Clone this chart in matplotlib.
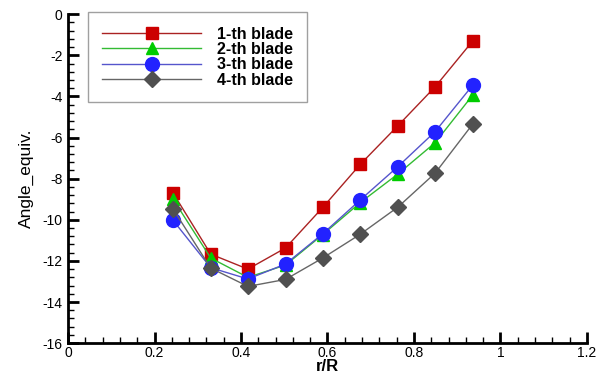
import matplotlib.pyplot as plt
from matplotlib.ticker import MultipleLocator, AutoMinorLocator

plt.rcParams['font.family'] = ['Liberation Sans', 'DejaVu Sans']
plt.rcParams['axes.unicode_minus'] = False

# r/R stations
r_R = [0.243, 0.330, 0.416, 0.503, 0.589, 0.676, 0.763, 0.849, 0.936]

# equivalent angle for each blade
blade1 = [-8.7, -11.67, -12.4, -11.37, -9.4, -7.3, -5.42, -3.53, -1.3]
blade2 = [-9.0, -11.86, -12.8, -12.2, -10.72, -9.16, -7.77, -6.25, -3.93]
blade3 = [-10.03, -12.33, -12.88, -12.15, -10.68, -9.03, -7.41, -5.71, -3.45]
blade4 = [-9.48, -12.35, -13.24, -12.9, -11.86, -10.7, -9.38, -7.73, -5.34]

labels = ['1-th blade', '2-th blade', '3-th blade', '4-th blade']

fig = plt.figure(figsize=(6.02, 3.73), dpi=100)
ax = fig.add_axes([0.113, 0.080, 0.862, 0.882])

ax.plot(r_R, blade1, color='#aa2222', lw=1, marker='s', ms=9,
        mfc='#cc0000', mec='#cc0000', label=labels[0])
ax.plot(r_R, blade2, color='#33bb33', lw=1, marker='^', ms=9,
        mfc='#00cc00', mec='#00cc00', label=labels[1])
ax.plot(r_R, blade3, color='#5555cc', lw=1, marker='o', ms=10,
        mfc='#2222ff', mec='#2222ff', label=labels[2])
ax.plot(r_R, blade4, color='#666666', lw=1, marker='D', ms=8,
        mfc='#505050', mec='#505050', label=labels[3])

ax.set_xlim(0, 1.2)
ax.set_ylim(-16, 0)
ax.yaxis.set_major_locator(MultipleLocator(2))
ax.yaxis.set_minor_locator(AutoMinorLocator(5))
ax.set_xticks([0, 0.2, 0.4, 0.6, 0.8, 1.0, 1.2])
ax.set_xticklabels(['0', '0.2', '0.4', '0.6', '0.8', '1', '1.2'])
ax.xaxis.set_minor_locator(AutoMinorLocator(5))

for s in ['top', 'right']:
    ax.spines[s].set_visible(False)
for s in ['left', 'bottom']:
    ax.spines[s].set_linewidth(2)

ax.tick_params(which='major', direction='in', length=8, width=2, labelsize=10)
ax.tick_params(which='minor', direction='in', length=4, width=1)
ax.tick_params(axis='x', pad=2)
ax.tick_params(axis='y', pad=4)

ax.set_xlabel('r/R', fontsize=12, fontweight='bold', labelpad=-1)
ax.set_ylabel('Angle_equiv.', fontsize=12.5, labelpad=6)

leg = ax.legend(loc='upper left', bbox_to_anchor=(0.038, 1.006), frameon=True,
                fancybox=False, edgecolor='#888888', handlelength=6.2,
                borderpad=0.9, labelspacing=0.02, handletextpad=1.0,
                borderaxespad=0, prop={'weight': 'bold', 'size': 11.5})
leg.get_frame().set_linewidth(1)

fig.savefig('out.png', dpi=100)
